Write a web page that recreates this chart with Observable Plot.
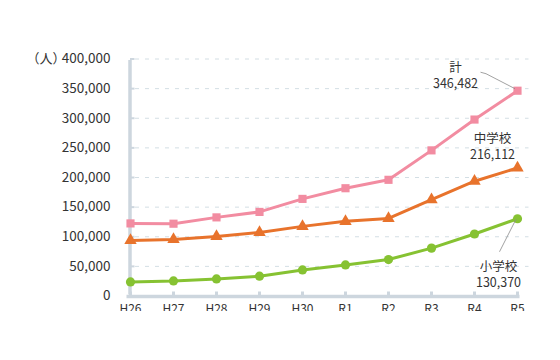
<!DOCTYPE html>
<html><head><meta charset="utf-8">
<script src="https://cdn.jsdelivr.net/npm/d3@7"></script>
<script src="https://cdn.jsdelivr.net/npm/@observablehq/plot@0.6"></script>
<style>
body{margin:0;background:#fff;}
#chart svg{display:block;overflow:hidden;}
</style>
</head><body><div id="chart"></div>
<script>
const years = ["H26","H27","H28","H29","H30","R1","R2","R3","R4","R5"];
const total = [122500,122000,132700,141900,163900,181900,196100,245800,297800,346482];
const junior = [93700,95400,100500,107300,117500,126000,131000,162700,193700,216112];
const elementary = [23700,25400,28800,33400,44000,52500,61500,80800,104600,130370];
const seriesNames = ["計","中学校","小学校"];
const seriesColors = ["#f28ca1","#e8732c","#86c232"];
const seriesSymbols = ["square","triangle","circle"];
const yTicks = [0,50000,100000,150000,200000,250000,300000,350000,400000];
const unitLabel = "（人）";

const seriesValues = [total, junior, elementary];
const rows = [];
seriesNames.forEach((s, k) => years.forEach((y, i) => rows.push({year: y, value: seriesValues[k][i], series: s})));
const last = seriesNames.map((s, k) => ({year: years[years.length-1], value: seriesValues[k][years.length-1], series: s,
  label: s + "\n" + d3.format(",")(seriesValues[k][years.length-1])}));

const axisColor = "#cdd6de";
const textColor = "#333";
const FONT = "'Noto Sans CJK JP','Noto Sans',sans-serif";

function leader(datum, pts) {
  return (index, scales) => {
    const px = scales.x(datum.year), py = scales.y(datum.value);
    const p = d3.path();
    pts.forEach(([dx, dy], j) => j ? p.lineTo(px + dx, py + dy) : p.moveTo(px + dx, py + dy));
    const el = document.createElementNS("http://www.w3.org/2000/svg", "path");
    el.setAttribute("d", p.toString());
    el.setAttribute("fill", "none");
    el.setAttribute("stroke", "#8a8a8a");
    el.setAttribute("stroke-width", "0.8");
    return el;
  };
}

const plot = Plot.plot({
  width: 560,
  height: 311,
  marginLeft: 129,
  marginRight: 42.5,
  marginTop: 58.5,
  marginBottom: 15.5,
  style: {fontFamily: FONT, color: textColor, background: "#fff", overflow: "hidden"},
  x: {type: "point", domain: years, padding: 0},
  y: {domain: [0, 400000]},
  color: {domain: seriesNames, range: seriesColors},
  symbol: {domain: seriesNames, range: seriesSymbols},
  marks: [
    Plot.ruleY(yTicks.filter(d => d > 0), {y: d => d, stroke: "#d3dee4", strokeDasharray: "4,6", insetLeft: 6, insetRight: -11}),
    Plot.ruleX([years[0]], {x: d => d, y1: d => 0, y2: d => 400000, stroke: axisColor, strokeWidth: 3.5, dx: -0.5, insetTop: -1, insetBottom: -1.5}),
    Plot.ruleY(yTicks, {y: d => d, x1: d => years[0], x2: d => years[0], insetRight: -4.5, stroke: axisColor, strokeWidth: 2}),
    Plot.ruleY([0], {y: d => d, stroke: axisColor, strokeWidth: 3.5, insetLeft: -2.5, insetRight: -2, dy: 0.5}),
    Plot.ruleX(years, {x: d => d, y1: d => 0, y2: d => 0, insetTop: -4, stroke: axisColor, strokeWidth: 3}),
    Plot.axisY(yTicks, {tickSize: 0, tickPadding: 19, fontSize: 13.5, tickFormat: d3.format(","), label: null, fill: textColor}),
    Plot.axisX(years, {tickSize: 0, tickPadding: 8, fontSize: 12, label: null, fill: textColor}),
    Plot.text([unitLabel], {y: d => 400000, frameAnchor: "left", dx: -64, textAnchor: "end", fontSize: 13, fill: textColor}),
    Plot.line(rows, {x: "year", y: "value", z: "series", stroke: "series", strokeWidth: 3}),
    Plot.dot(rows, {x: "year", y: "value", fill: "series", symbol: "series", r: 4.6}),
    Plot.text([last[0]], {x: "year", y: "value", text: "label", dx: -62, dy: -15.5, textAnchor: "middle", lineAnchor: "middle", lineHeight: 1.25, fontSize: 12.5, fill: textColor}),
    Plot.text([last[1]], {x: "year", y: "value", text: "label", dx: -25, dy: -22, textAnchor: "middle", lineAnchor: "middle", lineHeight: 1.25, fontSize: 12.5, fill: textColor}),
    Plot.text([last[2]], {x: "year", y: "value", text: "label", dx: -19, dy: 55, textAnchor: "middle", lineAnchor: "middle", lineHeight: 1.25, fontSize: 12.5, fill: textColor}),
    leader(last[0], [[-36.5, -18], [-31, -16.5], [-2, -1.5]]),
    leader(last[2], [[-1, 1], [-17.5, 33.5]])
  ]
});
document.getElementById("chart").appendChild(plot);
</script>
</body></html>
